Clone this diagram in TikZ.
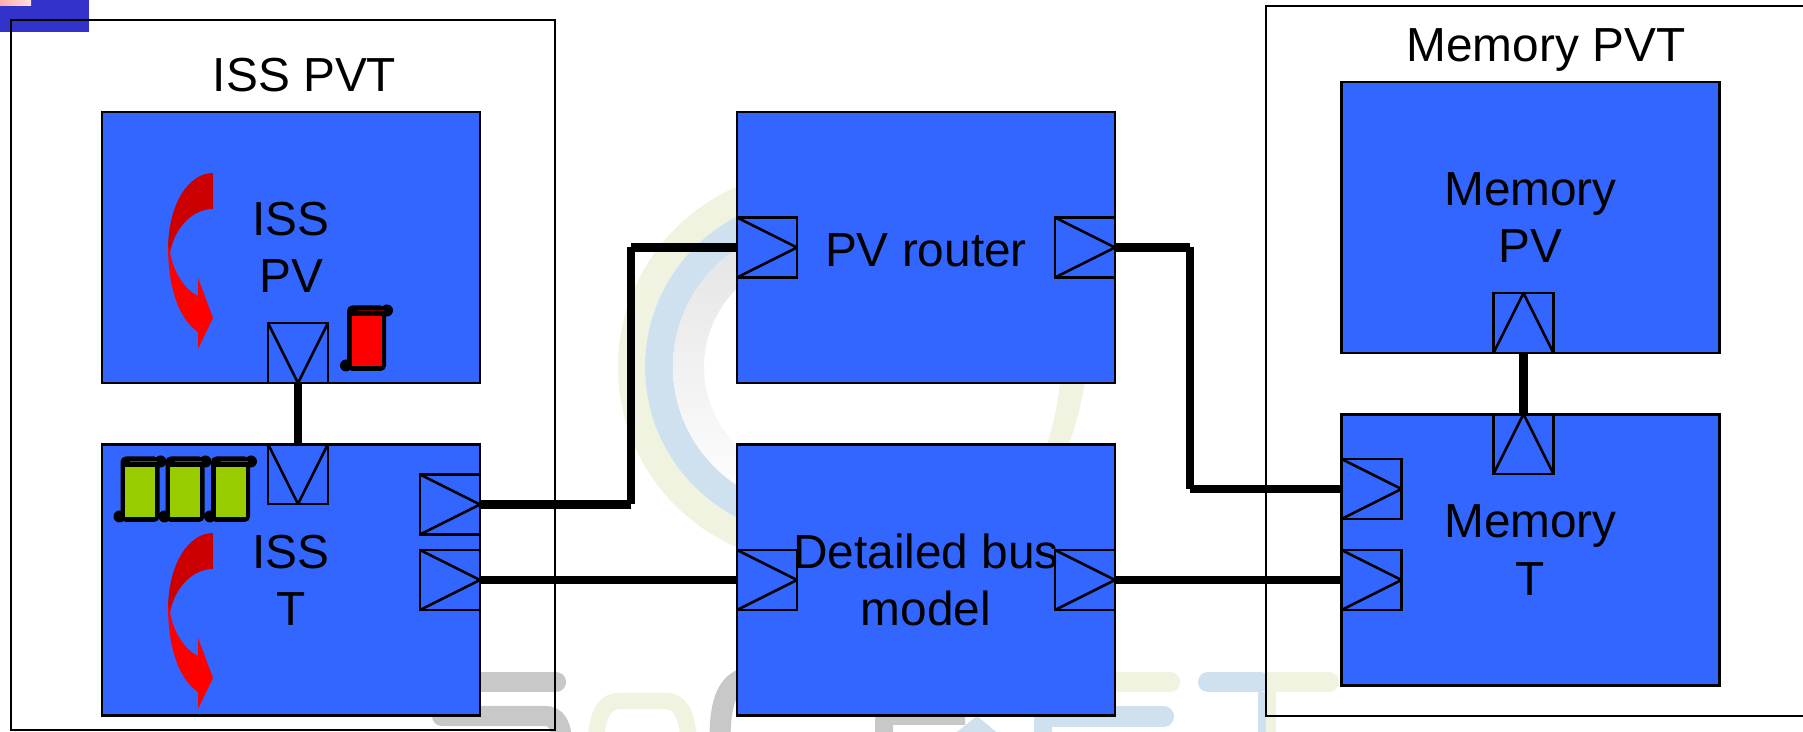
\documentclass[tikz,border=0pt]{standalone}
\usepackage{fontspec}
\setmainfont{Liberation Sans}
\definecolor{blockblue}{HTML}{3366FF}
\definecolor{wmolive}{HTML}{F0F3DF}
\definecolor{wmblue}{HTML}{CFE0EF}
\definecolor{wmgrey}{HTML}{C8C8C8}
\definecolor{scrollgreen}{HTML}{99CC00}
\definecolor{threaddark}{HTML}{CC0000}
\definecolor{logoblue}{HTML}{3333CC}
\begin{document}
\begin{tikzpicture}[x=0.02cm,y=-0.02cm,font=\fontsize{27.2}{32.6}\selectfont]
    \tikzstyle{box}=[rectangle,draw,line width=1.5pt,inner sep=0pt,outer sep=0pt]
    \tikzstyle{container}=[box,minimum width=10.88cm,minimum height=14.2cm]
    \tikzstyle{block}=[box,fill=blockblue,align=center,execute at begin node={\rule{0pt}{22pt}},minimum width=7.56cm,minimum height=5.42cm]
    \tikzstyle{port}=[box,minimum size=1.2cm]
    \tikzstyle{porte}=[port,path picture={\draw[line width=1.5pt] (path picture bounding box.north west) -- (path picture bounding box.east) -- (path picture bounding box.south west);}]
    \tikzstyle{ports}=[port,path picture={\draw[line width=1.5pt] (path picture bounding box.north west) -- (path picture bounding box.south) -- (path picture bounding box.north east);}]
    \tikzstyle{portn}=[port,path picture={\draw[line width=1.5pt] (path picture bounding box.south west) -- (path picture bounding box.north) -- (path picture bounding box.south east);}]
    \tikzstyle{wire}=[line width=4.6pt]
    \tikzstyle{wmbar}=[line width=11.5pt,line cap=round]

    \useasboundingbox (0,0) rectangle (1803,732);

    % logo in the corner
    \fill[logoblue] (0,0) rectangle (89,32);
    \shade[left color=pink!90!red,right color=pink!50] (0,0) rectangle (31,6);

    % watermark rings
    \begin{scope}
    \clip (600,100) rectangle (800,640);
    \fill[wmolive,even odd rule] (814,367) circle (196) (814,367) circle (169);
    \fill[wmblue,even odd rule] (814,367) circle (169) (814,367) circle (141);
    \shade[top color=black!11,bottom color=white,even odd rule] (814,367) circle (141) (814,367) circle (110);
    \end{scope}
    \fill[wmolive] (1060,383) -- (1085,383) .. controls (1081,405) and (1076,425) .. (1069,444) -- (1047,444) .. controls (1053,425) and (1058,405) .. (1060,383) -- cycle;

    % watermark letters
    \draw[wmgrey,wmbar] (470,682) -- (556,682);
    \draw[wmgrey,wmbar] (442,716) -- (545,716) .. controls (556,716) and (562,725) .. (562,745);
    \draw[wmolive,line width=9.5pt] (596,740) .. controls (598,712) and (605,701) .. (620,701) -- (665,701) .. controls (680,701) and (686,712) .. (689,740);
    \draw[wmgrey,line width=12pt] (745,678) .. controls (728,684) and (720,700) .. (720,740);
    \fill[wmgrey] (875,716) rectangle (965,725) (875,716) rectangle (893,735);
    \fill[wmblue] (953,735) -- (977,716) -- (1000,735) -- cycle;
    \draw[wmblue,wmbar] (1100,716.5) -- (1164,716.5);
    \fill[wmblue] (1034,716) rectangle (1110,727) (1034,716) rectangle (1052,735);
    \draw[wmolive,wmbar] (1100,682) -- (1170,682);
    \draw[wmblue,wmbar] (1208,682) -- (1260,682);
    \draw[wmolive,wmbar] (1275,682) -- (1329,682);
    \fill[wmolive] (1266,672) rectangle (1276,692) (1266,692) rectangle (1276,735);
    \fill[wmblue] (1258,692) rectangle (1266,735);

    % outer boxes
    \node[container] (iss-pvt) at (283,375) {};
    \node[container] (mem-pvt) at (1538,361) {};
    \node[anchor=base] (iss-title) at (304.5,92) {ISS PVT};
    \node[anchor=base] (mem-title) at (1546,62) {Memory PVT};

    % blocks
    \node[block] (iss-pv) at (291,247.5) {ISS\\PV};
    \node[block] (iss-t) at (291,580) {ISS\\T};
    \node[block] (router) at (926,247.5) {PV router};
    \node[block] (bus) at (926,580) {Detailed bus\\model};
    \node[block] (mem-pv) at (1530.5,217.5) {Memory\\PV};
    \node[block] (mem-t) at (1530.5,550) {Memory\\T};

    % ports
    \node[ports,anchor=south] (iss-pv-out) at (298,383) {};
    \node[ports,anchor=north] (iss-t-in) at (298,444) {};
    \node[porte,anchor=east] (iss-t-o1) at (480,504.5) {};
    \node[porte,anchor=east] (iss-t-o2) at (480,580) {};
    \node[porte,anchor=west] (router-in) at (router.west) {};
    \node[porte,anchor=east] (router-out) at (router.east) {};
    \node[porte,anchor=west] (bus-in) at (bus.west) {};
    \node[porte,anchor=east] (bus-out) at (bus.east) {};
    \node[portn,anchor=south] (mem-pv-in) at (1523.5,353) {};
    \node[portn,anchor=north] (mem-t-top) at (1523.5,414) {};
    \node[porte,anchor=west] (mem-t-i1) at (1341.5,489) {};
    \node[porte,anchor=west] (mem-t-i2) at (1341.5,580) {};

    % red thread arrows
    \foreach \dy in {0,360} {
    \begin{scope}[shift={(0,\dy)}]
    \fill[threaddark] (213,173) .. controls (188,173) and (168,205) .. (168,250) -- (170,252) .. controls (175,228) and (192,209) .. (213,209) -- cycle;
    \fill[red] (168,245) .. controls (168,290) and (180,320) .. (198,332) -- (198,349) -- (213,318) -- (198,278) -- (198,296) .. controls (185,290) and (173,272) .. (170,252) -- cycle;
    \end{scope}
    }

    % fifo scrolls
    \foreach \cx/\cy/\col in {366.5/341/red,140/492/scrollgreen,185/492/scrollgreen,230.5/492/scrollgreen} {
    \begin{scope}[shift={(\cx,\cy)}]
    \fill[black,rounded corners=3pt] (-19.5,-35.5) rectangle (19.5,30);
    \fill[black] (-20.5,24.5) circle (6) (20.5,-30.5) circle (6);
    \fill[\col] (-15,-25) rectangle (15,25);
    \draw[\col!45!black,line width=0.5pt] (-10,-30.5) -- (17,-30.5);
    \end{scope}
    }

    % Connect the ports
    \coordinate (bend-l) at (631,0);
    \coordinate (bend-r) at (1190,0);
    \draw[wire] (iss-pv-out.south) -- (iss-t-in.north);
    \draw[wire] (mem-pv-in.south) -- (mem-t-top.north);
    \draw[wire] (iss-t-o1.east) -- (iss-t-o1.east -| bend-l) (iss-t-o1.east -| bend-l) -- (router-in.west -| bend-l) (router-in.west -| bend-l) -- (router-in.west);
    \draw[wire] (iss-t-o2.east) -- (bus-in.west);
    \draw[wire] (router-out.east) -- (router-out.east -| bend-r) (router-out.east -| bend-r) -- (mem-t-i1.west -| bend-r) (mem-t-i1.west -| bend-r) -- (mem-t-i1.west);
    \draw[wire] (bus-out.east) -- (mem-t-i2.west);
  \end{tikzpicture}
\end{document}
